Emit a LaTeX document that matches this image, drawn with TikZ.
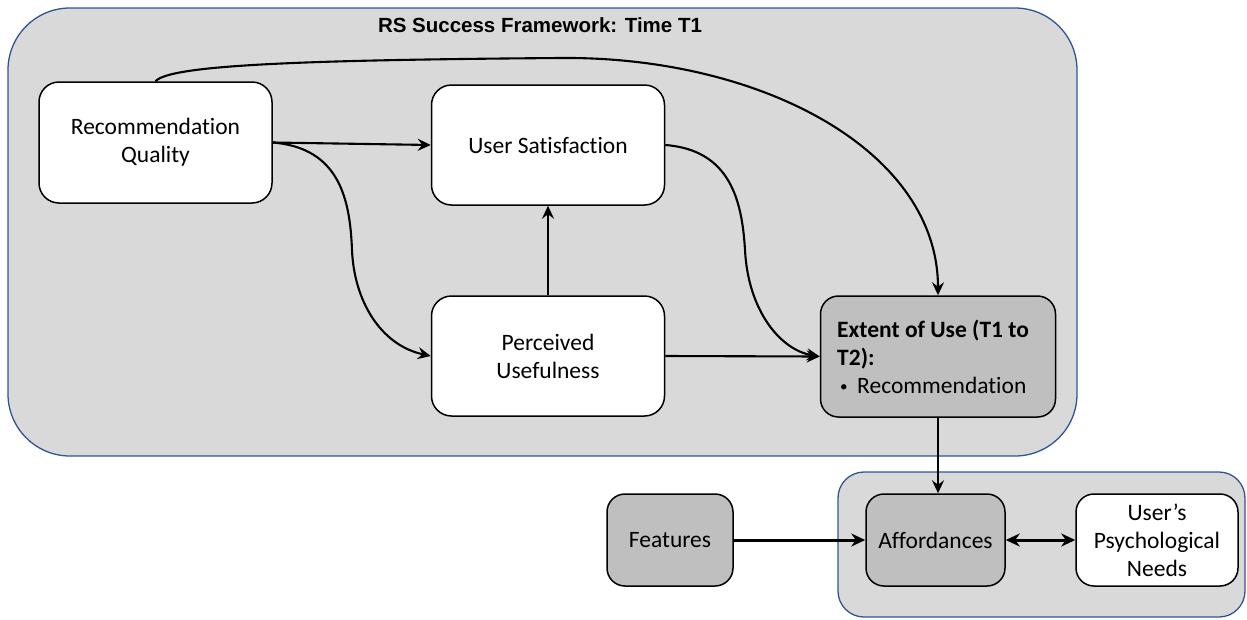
\documentclass[tikz,border=0pt]{standalone}
\usepackage{fontspec}
\setmainfont{Carlito}[Ligatures=NoCommon]
\newfontfamily\titlefont{Liberation Sans}
\usetikzlibrary{arrows.meta}
\definecolor{panelfill}{HTML}{D9D9D9}
\definecolor{panelline}{HTML}{2F5597}
\definecolor{darkbox}{HTML}{BFBFBF}
\newcommand{\smallbullet}{\raisebox{1.5pt}{\fontsize{15}{15}\selectfont\textbullet}}
\tikzset{
  panel/.style={draw=panelline, line width=1.3pt, fill=panelfill},
  boxtext/.style={font=\fontsize{23.5}{28}\selectfont},
  box/.style={draw=black, line width=1.5pt, fill=white, rounded corners=20pt,
    inner sep=0pt, align=center, boxtext},
  greybox/.style={box, fill=darkbox},
  link/.style={line width=2.1pt, -{Stealth[length=13pt,width=12pt,inset=4.5pt]}},
  thicklink/.style={line width=3pt, -{Stealth[length=14pt,width=13pt,inset=4.5pt]}},
}
\begin{document}
\begin{tikzpicture}[x=1pt,y=-1pt]
\useasboundingbox (0,0) rectangle (1247,619);

% framework panels
\draw[panel, rounded corners=62pt] (8,8) rectangle (1077,456);
\draw[panel, rounded corners=26pt] (838,472) rectangle (1245,617);
\node[font=\titlefont\bfseries\fontsize{20.5}{22}\selectfont] (title) at (540,25) {RS Success Framework: Time T1};

% constructs
\node[box, minimum width=233pt, minimum height=121pt] (rq) at (155.5,142.5) {Recommendation\\Quality};
\node[box, minimum width=233pt, minimum height=120pt] (us) at (548,145) {User Satisfaction};
\node[box, minimum width=233pt, minimum height=120pt] (pu) at (548,356) {Perceived\\Usefulness};
\node[greybox, rounded corners=18pt, minimum width=235pt, minimum height=121pt] (eou) at (938,356.5) {};
\node[boxtext, anchor=west, align=left, inner sep=0pt] (eoutext) at (837,356.5)
  {\textbf{Extent of Use (T1 to}\\\textbf{T2):}\\\makebox[20pt][l]{\hspace{3pt}\smallbullet}Recommendation};
\node[greybox, rounded corners=18pt, minimum width=126pt, minimum height=92pt] (feat) at (670,540) {Features};
\node[greybox, rounded corners=18pt, minimum width=139pt, minimum height=92pt] (aff) at (935.5,540) {Affordances};
\node[box, rounded corners=18pt, minimum width=162pt, minimum height=92pt] (upn) at (1157,540) {User’s\\Psychological\\Needs};

% connectors
\draw[link] (rq.east) -- (us.west);
\draw[link] (rq.east) .. controls (340,148) and (350,200) .. (352,250)
  .. controls (354,300) and (380,345) .. (pu.west);
\draw[link] (pu.north) -- (us.south);
\draw[link] (us.east) .. controls (730,150) and (742,200) .. (745,250)
  .. controls (748,310) and (780,350) .. (eou.west);
\draw[link] (pu.east) -- (eou.west);
\draw[link] (rq.north) .. controls (170,65) and (300,60) .. (560,58)
  .. controls (760,56) and (938,150) .. (eou.north);
\draw[link] (eou.south) -- (eou.south |- aff.north);
\draw[thicklink] (feat.east) -- (aff.west);
\draw[thicklink, {Stealth[length=14pt,width=13pt,inset=4.5pt]}-{Stealth[length=14pt,width=13pt,inset=4.5pt]}] (aff.east) -- (upn.west);
\end{tikzpicture}
\end{document}
